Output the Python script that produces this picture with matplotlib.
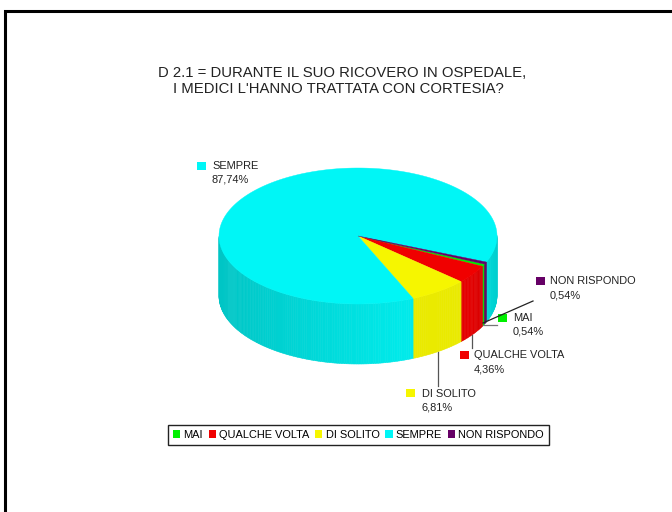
import numpy as np
import matplotlib
matplotlib.use("Agg")
import matplotlib.pyplot as plt
from matplotlib.patches import Patch, Polygon, Rectangle

plt.rcParams["font.family"] = ["Liberation Sans", "DejaVu Sans"]

# slice order runs clockwise round the pie
categories = ["MAI", "QUALCHE VOLTA", "DI SOLITO", "SEMPRE", "NON RISPONDO"]
values = [0.54, 4.36, 6.81, 87.74, 0.54]
value_labels = ["0,54%", "4,36%", "6,81%", "87,74%", "0,54%"]
colors = ["#00F000", "#F00000", "#F6F600", "#00F6F6", "#660066"]
title_lines = ["D 2.1 = DURANTE IL SUO RICOVERO IN OSPEDALE,",
               "I MEDICI L'HANNO TRATTATA CON CORTESIA?"]

W, H = 672, 512
CX, CY = 358, 236
RX, RY = 139, 68
DEPTH = 60
START_ANGLE = -24.5


def px(size):
    return size * 72 / 100


def ellipse_point(t):
    return CX + RX * np.cos(t), CY - RY * np.sin(t)


def shade(color, t):
    # wall is flat and bright at the front, darker towards both edges
    c = np.cos(t)
    if c < 0.3:
        k = 0.95 - (0.3 - c) / 1.3 * 0.15
    elif c < 0.8:
        k = 0.95
    else:
        k = 0.95 - (c - 0.8) / 0.2 * 0.11
    return tuple(np.array(matplotlib.colors.to_rgb(color)) * k)


fig = plt.figure(figsize=(W / 100, H / 100), dpi=100)
ax = fig.add_axes([0, 0, 1, 1])
ax.set_xlim(0, W)
ax.set_ylim(H, 0)
ax.axis("off")

# outer frame: only the top and left sides are in view
ax.plot([5, 5, W], [H, 10.5, 10.5], color="black", lw=2.2, solid_joinstyle="miter")

# slice limits in radians, going clockwise
edges = np.radians(START_ANGLE - np.cumsum([0] + values) * 3.6)

# walls first, strip by strip along the front half
for i, color in enumerate(colors):
    t0, t1 = edges[i], edges[i + 1]
    ts = np.linspace(t0, t1, max(2, int(abs(t1 - t0) / np.radians(1)) + 2))
    for a, b in zip(ts[:-1], ts[1:]):
        if np.sin((a + b) / 2) > 0:
            continue
        xa, ya = ellipse_point(a)
        xb, yb = ellipse_point(b)
        ax.add_patch(Polygon([(xa, ya), (xb, yb), (xb, yb + DEPTH), (xa, ya + DEPTH)],
                             closed=True, fc=shade(color, (a + b) / 2),
                             ec=shade(color, (a + b) / 2), lw=0.4, zorder=2))

# top faces
for i, color in enumerate(colors):
    ts = np.linspace(edges[i], edges[i + 1], max(3, int(abs(edges[i + 1] - edges[i]) / np.radians(1)) + 2))
    xs, ys = ellipse_point(ts)
    pts = [(CX, CY)] + list(zip(xs, ys))
    ax.add_patch(Polygon(pts, closed=True, fc=color, ec=color, lw=0.3, zorder=3))

# callouts: swatch corner, text position, leader line and its colour
callouts = {
    "SEMPRE": ((197, 162), (212, 166), (212, 180), None, None),
    "DI SOLITO": ((406, 389), (422, 394), (421, 407), ((438, 352), (438, 386)), "#555555"),
    "QUALCHE VOLTA": ((460, 351), (474, 355), (474, 369), ((472, 335), (472, 348)), "#555555"),
    "MAI": ((498, 314), (513, 318), (513, 331), ((483, 325), (497, 325)), "#777777"),
    "NON RISPONDO": ((536, 277), (550, 281), (550, 295), ((483, 323), (533, 301)), "#222222"),
}
for name, color, label in zip(categories, colors, value_labels):
    box, name_pos, value_pos, leader, line_color = callouts[name]
    ax.add_patch(Rectangle(box, 9, 8, fc=color, ec="none", zorder=4))
    ax.text(*name_pos, name, fontsize=px(11), color="#222222", va="center", ha="left", zorder=4)
    ax.text(*value_pos, label, fontsize=px(11), color="#222222", va="center", ha="left", zorder=4)
    if leader is not None:
        ax.plot(*zip(*leader), color=line_color, lw=0.9, zorder=4)

ax.text(342, 73, title_lines[0], fontsize=px(14.9), color="#222222", ha="center", va="center")
ax.text(338, 89, title_lines[1], fontsize=px(14.9), color="#222222", ha="center", va="center")

handles = [Patch(fc=c, ec="none", label=n) for c, n in zip(colors, categories)]
leg = ax.legend(handles=handles, ncol=5, loc="center", bbox_to_anchor=(358.5 / W, 1 - 435 / H),
                frameon=True, fancybox=False, edgecolor="#222222", framealpha=1,
                fontsize=px(11), handlelength=0.65, handleheight=0.65, handletextpad=0.3,
                columnspacing=0.52, borderpad=0.45, borderaxespad=0)
leg.get_frame().set_linewidth(1.0)

fig.savefig("out.png", dpi=100)
